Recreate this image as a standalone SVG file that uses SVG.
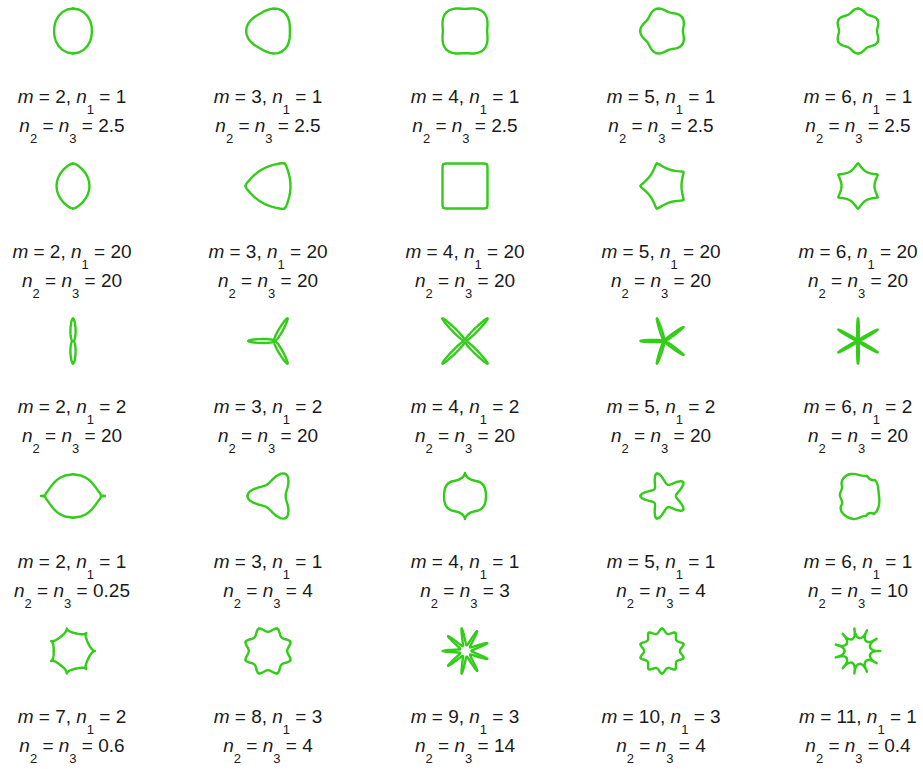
<svg xmlns="http://www.w3.org/2000/svg" xmlns:xlink="http://www.w3.org/1999/xlink" width="923" height="769" viewBox="0 0 923 769">
<style>
.s{fill:none;stroke:#33cc1a;stroke-linejoin:round;stroke-linecap:round}
.t{font-family:"Liberation Sans",Arial,sans-serif;font-size:19px;fill:#1a1a1a;text-anchor:middle}
.i{font-style:italic}
.b{font-size:13px}
</style>
<defs>
<path id="h11" d="M0,-1.1892 L.3046,-1.1367 L.5716,-.9901 L.7762,-.7762 L.9106,-.5257 L.9807,-.2628 L1,0 L.9807,.2628 L.9106,.5257 L.7762,.7762 L.5716,.9901 L.3046,1.1367 L0,1.1892"/>
<path id="h12" d="M.5946,-1.0299 L.7565,-.9015 L.8758,-.7348 L.9506,-.5488 L.9881,-.3596 L.9999,-.1763 L1,0 L.9999,.1763 L.9881,.3596 L.9506,.5488 L.8758,.7348 L.7565,.9015 L.5946,1.0299"/>
<path id="h13" d="M.8409,-.8409 L.9336,-.7164 L.9901,-.5716 L1.0141,-.4201 L1.0157,-.2721 L1.0066,-.1325 L1,0 L1.0066,.1325 L1.0157,.2721 L1.0141,.4201 L.9901,.5716 L.9336,.7164 L.8409,.8409"/>
<path id="h14" d="M.9621,-.6990 L1.0192,-.5884 L1.0444,-.4650 L1.0439,-.3392 L1.0285,-.2186 L1.0098,-.1061 L1,0 L1.0098,.1061 L1.0285,.2186 L1.0439,.3392 L1.0444,.4650 L1.0192,.5884 L.9621,.6990"/>
<path id="h15" d="M1.0299,-.5946 L1.0666,-.4974 L1.0743,-.3910 L1.0603,-.2841 L1.0355,-.1826 L1.0115,-.0885 L1,0 L1.0115,.0885 L1.0355,.1826 L1.0603,.2841 L1.0743,.3910 L1.0666,.4974 L1.0299,.5946"/>
<path id="h21" d="M0,-1.3660 L.1173,-1.3403 L.2264,-1.2837 L.3262,-1.2173 L.5774,-1 L.7654,-.7654 L.8966,-.5176 L.9743,-.2611 L1,0 L.9743,.2611 L.8966,.5176 L.7654,.7654 L.5774,1 L.3262,1.2173 L.2264,1.2837 L.1173,1.3403 L0,1.3660"/>
<path id="h22" d="M.6830,-1.1830 L.7394,-1.1241 L.7784,-1.0456 L.8100,-.9654 L.8846,-.7422 L.9374,-.5412 L.9729,-.3541 L.9933,-.1752 L1,0 L.9933,.1752 L.9729,.3541 L.9374,.5412 L.8846,.7422 L.8100,.9654 L.7784,1.0456 L.7394,1.1241 L.6830,1.1830"/>
<path id="h23" d="M.9659,-.9659 L.9920,-.9090 L.9985,-.8379 L.9998,-.7671 L1,-.5774 L1,0 L1,.5774 L.9998,.7671 L.9985,.8379 L.9920,.9090 L.9659,.9659"/>
<path id="h24" d="M1.1052,-.8029 L1.1154,-.7524 L1.1054,-.6907 L1.0914,-.6301 L1.0549,-.4697 L1.0294,-.3345 L1.0127,-.2153 L1.0031,-.1054 L1,0 L1.0031,.1054 L1.0127,.2153 L1.0294,.3345 L1.0549,.4697 L1.0914,.6301 L1.1054,.6907 L1.1154,.7524 L1.1052,.8029"/>
<path id="h25" d="M1.1830,-.6830 L1.1843,-.6385 L1.1648,-.5850 L1.1421,-.5326 L1.0851,-.3949 L1.0455,-.2801 L1.0196,-.1798 L1.0048,-.0879 L1,0 L1.0048,.0879 L1.0196,.1798 L1.0455,.2801 L1.0851,.3949 L1.1421,.5326 L1.1648,.5850 L1.1843,.6385 L1.1830,.6830"/>
<path id="h31" d="M0,-22.627 L.7688,-22.017 L1.6944,-19.366 L2.4587,-13.944 L2.6141,-9.7559 L2.5135,-6.9058 L2.3206,-4.9765 L2.1071,-3.6496 L1.9025,-2.7170 L1.7190,-2.0486 L1.5607,-1.5607 L1.2249,-.7072 L1.0527,-.2821 L1,0 L1.0527,.2821 L1.2249,.7072 L1.5607,1.5607 L1.7190,2.0486 L1.9025,2.7170 L2.1071,3.6496 L2.3206,4.9765 L2.5135,6.9058 L2.6141,9.7559 L2.4587,13.944 L1.6944,19.366 L.7688,22.017 L0,22.627"/>
<path id="h32" d="M11.314,-19.596 L11.456,-18.817 L10.682,-16.242 L8.4552,-11.357 L6.4922,-7.7370 L5.0432,-5.3454 L3.9940,-3.7682 L3.2283,-2.7088 L2.6606,-1.9807 L2.2345,-1.4694 L1.9114,-1.1036 L1.6634,-.8354 L1.3290,-.4837 L1.0732,-.1892 L1,0 L1.0732,.1892 L1.3290,.4837 L1.6634,.8354 L1.9114,1.1036 L2.2345,1.4694 L2.6606,1.9807 L3.2283,2.7088 L3.9940,3.7682 L5.0432,5.3454 L6.4922,7.7370 L8.4552,11.357 L10.682,16.242 L11.456,18.817 L11.314,19.596"/>
<path id="h33" d="M16,-16 L15.847,-15.303 L14.333,-13.134 L10.846,-9.1013 L8.0128,-6.1485 L6.0199,-4.2152 L4.6311,-2.9503 L3.6496,-2.1071 L2.9421,-1.5316 L2.4237,-1.1302 L2.0391,-.8446 L1.7491,-.6366 L1.3661,-.3661 L1.0805,-.1422 L1,0 L1.0805,.1422 L1.3661,.3661 L1.7491,.6366 L2.0391,.8446 L2.4237,1.1302 L2.9421,1.5316 L3.6496,2.1071 L4.6311,2.9503 L6.0199,4.2152 L8.0128,6.1485 L10.846,9.1013 L14.333,13.134 L15.847,15.303 L16,16"/>
<path id="h34" d="M18.306,-13.3 L18.002,-12.699 L16.117,-10.871 L12.008,-7.5032 L8.7469,-5.05 L6.4888,-3.4501 L4.9353,-2.4071 L3.8499,-1.7141 L3.0754,-1.2425 L2.5130,-.9147 L2.0991,-.6820 L1.7893,-.5131 L1.3834,-.2941 L1.0838,-.1139 L1,0 L1.0838,.1139 L1.3834,.2941 L1.7893,.5131 L2.0991,.6820 L2.5130,.9147 L3.0754,1.2425 L3.8499,1.7141 L4.9353,2.4071 L6.4888,3.4501 L8.7469,5.05 L12.008,7.5032 L16.117,10.871 L18.002,12.699 L18.306,13.3"/>
<path id="h35" d="M19.596,-11.314 L19.206,-10.791 L17.112,-9.2250 L12.653,-6.3545 L9.1537,-4.2685 L6.7480,-2.9108 L5.1031,-2.0273 L3.9601,-1.4413 L3.1485,-1.0431 L2.5619,-.7670 L2.1319,-.5712 L1.8112,-.4292 L1.3928,-.2456 L1.0857,-.0950 L1,0 L1.0857,.0950 L1.3928,.2456 L1.8112,.4292 L2.1319,.5712 L2.5619,.7670 L3.1485,1.0431 L3.9601,1.4413 L5.1031,2.0273 L6.7480,2.9108 L9.1537,4.2685 L12.653,6.3545 L17.112,9.2250 L19.206,10.791 L19.596,11.314"/>
<path id="h41" d="M0,-.545 L.1989,-.5128 L.3004,-.4679 L.3960,-.4072 L.4786,-.3277 L.5546,-.2342 L.6282,-.1274 L.6756,-.0678 L.70,-.014 L.80,0 L.70,.014 L.6756,.0678 L.6282,.1274 L.5546,.2342 L.4786,.3277 L.3960,.4072 L.3004,.4679 L.1989,.5128 L0,.545"/>
<path id="h42" d="M1,-1.7321 L1.0743,-1.6755 L1.1279,-1.6109 L1.2048,-1.4359 L1.2257,-1.0285 L1.1547,-.6667 L1.0740,-.3909 L1.0190,-.1797 L1,0 L1.0190,.1797 L1.0740,.3909 L1.1547,.6667 L1.2257,1.0285 L1.2048,1.4359 L1.1279,1.6109 L1.0743,1.6755 L1,1.7321"/>
<path id="h44" d="M1.6180,-1.1756 L1.6422,-1.1244 L1.6492,-1.0710 L1.6233,-.9372 L1.4617,-.6508 L1.2681,-.4120 L1.1179,-.2376 L1.0290,-.1082 L1,0 L1.0290,.1082 L1.1179,.2376 L1.2681,.4120 L1.4617,.6508 L1.6233,.9372 L1.6492,1.0710 L1.6422,1.1244 L1.6180,1.1756"/>
<path id="h51" d="M.7069,-.3404 L.7330,-.2877 L.7609,-.2347 L.7919,-.1808 L.8287,-.1249 L.8594,-.0860 L.9009,-.0450 L.9392,-.0187 L1,0 L.9392,.0187 L.9009,.0450 L.8594,.0860 L.8287,.1249 L.7919,.1808 L.7609,.2347 L.7330,.2877 L.7069,.3404"/>
<path id="h52" d="M1.1640,-.4822 L1.1713,-.4555 L1.1723,-.4267 L1.1675,-.3963 L1.1298,-.3027 L1.0795,-.2147 L1.0366,-.1365 L1.0093,-.0662 L1,0 L1.0093,.0662 L1.0366,.1365 L1.0795,.2147 L1.1298,.3027 L1.1675,.3963 L1.1723,.4267 L1.1713,.4555 L1.1640,.4822"/>
<path id="h53" d="M3.7588,-1.3681 L3.6000,-1.2316 L3.2137,-1.0305 L2.7995,-.8381 L2.4386,-.6788 L1.9036,-.4511 L1.4250,-.2513 L1.1677,-.1365 L1.0392,-.0605 L1,0 L1.0392,.0605 L1.1677,.1365 L1.4250,.2513 L1.9036,.4511 L2.4386,.6788 L2.7995,.8381 L3.2137,1.0305 L3.6000,1.2316 L3.7588,1.3681"/>
<path id="h54" d="M1.1983,-.3893 L1.2018,-.3628 L1.1992,-.3439 L1.1910,-.3191 L1.1441,-.2432 L1.0871,-.1722 L1.0398,-.1093 L1.0100,-.0529 L1,0 L1.0100,.0529 L1.0398,.1093 L1.0871,.1722 L1.1441,.2432 L1.1910,.3191 L1.1992,.3439 L1.2018,.3628 L1.1983,.3893"/>
<path id="h55" d="M.5511,-.1618 L.5613,-.1362 L.5770,-.1112 L.6000,-.0863 L.6346,-.0606 L.6696,-.0426 L.7122,-.0271 L.7651,-.0146 L.8347,-.0053 L1,0 L.8347,.0053 L.7651,.0146 L.7122,.0271 L.6696,.0426 L.6346,.0606 L.6000,.0863 L.5770,.1112 L.5613,.1362 L.5511,.1618"/>
</defs>

<!-- Row 1 -->
<g id="r1c1">
<g class="s" transform="translate(73,31) scale(18.92)" stroke-width="0.127"><use href="#h11"/><use href="#h11" transform="rotate(180)"/></g>
<text class="t" x="72" y="103"><tspan class="i">m</tspan> = 2, <tspan class="i">n</tspan><tspan class="b" dy="11">1</tspan><tspan dy="-11"> = 1</tspan></text>
<text class="t" x="72" y="131.5"><tspan class="i">n</tspan><tspan class="b" dy="11">2</tspan><tspan dy="-11"> = </tspan><tspan class="i">n</tspan><tspan class="b" dy="11">3</tspan><tspan dy="-11"> = 2.5</tspan></text>
</g>
<g id="r1c2">
<g class="s" transform="translate(268,31) scale(19.98) translate(.0946,0)" stroke-width="0.12"><use href="#h12"/><use href="#h12" transform="rotate(120)"/><use href="#h12" transform="rotate(240)"/></g>
<text class="t" x="268" y="103"><tspan class="i">m</tspan> = 3, <tspan class="i">n</tspan><tspan class="b" dy="11">1</tspan><tspan dy="-11"> = 1</tspan></text>
<text class="t" x="268" y="131.5"><tspan class="i">n</tspan><tspan class="b" dy="11">2</tspan><tspan dy="-11"> = </tspan><tspan class="i">n</tspan><tspan class="b" dy="11">3</tspan><tspan dy="-11"> = 2.5</tspan></text>
</g>
<g id="r1c3">
<g class="s" transform="translate(465,31) scale(22.15)" stroke-width="0.108"><use href="#h13"/><use href="#h13" transform="rotate(90)"/><use href="#h13" transform="rotate(180)"/><use href="#h13" transform="rotate(270)"/></g>
<text class="t" x="465" y="103"><tspan class="i">m</tspan> = 4, <tspan class="i">n</tspan><tspan class="b" dy="11">1</tspan><tspan dy="-11"> = 1</tspan></text>
<text class="t" x="465" y="131.5"><tspan class="i">n</tspan><tspan class="b" dy="11">2</tspan><tspan dy="-11"> = </tspan><tspan class="i">n</tspan><tspan class="b" dy="11">3</tspan><tspan dy="-11"> = 2.5</tspan></text>
</g>
<g id="r1c4">
<g class="s" transform="translate(662,31) scale(19.53) translate(.0725,0)" stroke-width="0.123"><use href="#h14"/><use href="#h14" transform="rotate(72)"/><use href="#h14" transform="rotate(144)"/><use href="#h14" transform="rotate(216)"/><use href="#h14" transform="rotate(288)"/></g>
<text class="t" x="661" y="103"><tspan class="i">m</tspan> = 5, <tspan class="i">n</tspan><tspan class="b" dy="11">1</tspan><tspan dy="-11"> = 1</tspan></text>
<text class="t" x="661" y="131.5"><tspan class="i">n</tspan><tspan class="b" dy="11">2</tspan><tspan dy="-11"> = </tspan><tspan class="i">n</tspan><tspan class="b" dy="11">3</tspan><tspan dy="-11"> = 2.5</tspan></text>
</g>
<g id="r1c5">
<g class="s" transform="translate(858,31) scale(18.92)" stroke-width="0.127"><use href="#h15"/><use href="#h15" transform="rotate(60)"/><use href="#h15" transform="rotate(120)"/><use href="#h15" transform="rotate(180)"/><use href="#h15" transform="rotate(240)"/><use href="#h15" transform="rotate(300)"/></g>
<text class="t" x="858" y="103"><tspan class="i">m</tspan> = 6, <tspan class="i">n</tspan><tspan class="b" dy="11">1</tspan><tspan dy="-11"> = 1</tspan></text>
<text class="t" x="858" y="131.5"><tspan class="i">n</tspan><tspan class="b" dy="11">2</tspan><tspan dy="-11"> = </tspan><tspan class="i">n</tspan><tspan class="b" dy="11">3</tspan><tspan dy="-11"> = 2.5</tspan></text>
</g>

<!-- Row 2 -->
<g id="r2c1">
<g class="s" transform="translate(73,186) scale(16.47)" stroke-width="0.146"><use href="#h21"/><use href="#h21" transform="rotate(180)"/></g>
<text class="t" x="72" y="258"><tspan class="i">m</tspan> = 2, <tspan class="i">n</tspan><tspan class="b" dy="11">1</tspan><tspan dy="-11"> = 20</tspan></text>
<text class="t" x="72" y="286.5"><tspan class="i">n</tspan><tspan class="b" dy="11">2</tspan><tspan dy="-11"> = </tspan><tspan class="i">n</tspan><tspan class="b" dy="11">3</tspan><tspan dy="-11"> = 20</tspan></text>
</g>
<g id="r2c2">
<g class="s" transform="translate(268,186) scale(19.02) translate(.183,0)" stroke-width="0.126"><use href="#h22"/><use href="#h22" transform="rotate(120)"/><use href="#h22" transform="rotate(240)"/></g>
<text class="t" x="268" y="258"><tspan class="i">m</tspan> = 3, <tspan class="i">n</tspan><tspan class="b" dy="11">1</tspan><tspan dy="-11"> = 20</tspan></text>
<text class="t" x="268" y="286.5"><tspan class="i">n</tspan><tspan class="b" dy="11">2</tspan><tspan dy="-11"> = </tspan><tspan class="i">n</tspan><tspan class="b" dy="11">3</tspan><tspan dy="-11"> = 20</tspan></text>
</g>
<g id="r2c3">
<g class="s" transform="translate(465,186) scale(22.5)" stroke-width="0.107"><use href="#h23"/><use href="#h23" transform="rotate(90)"/><use href="#h23" transform="rotate(180)"/><use href="#h23" transform="rotate(270)"/></g>
<text class="t" x="465" y="258"><tspan class="i">m</tspan> = 4, <tspan class="i">n</tspan><tspan class="b" dy="11">1</tspan><tspan dy="-11"> = 20</tspan></text>
<text class="t" x="465" y="286.5"><tspan class="i">n</tspan><tspan class="b" dy="11">2</tspan><tspan dy="-11"> = </tspan><tspan class="i">n</tspan><tspan class="b" dy="11">3</tspan><tspan dy="-11"> = 20</tspan></text>
</g>
<g id="r2c4">
<g class="s" transform="translate(662,186) scale(17.32) translate(.125,0)" stroke-width="0.139"><use href="#h24"/><use href="#h24" transform="rotate(72)"/><use href="#h24" transform="rotate(144)"/><use href="#h24" transform="rotate(216)"/><use href="#h24" transform="rotate(288)"/></g>
<text class="t" x="661" y="258"><tspan class="i">m</tspan> = 5, <tspan class="i">n</tspan><tspan class="b" dy="11">1</tspan><tspan dy="-11"> = 20</tspan></text>
<text class="t" x="661" y="286.5"><tspan class="i">n</tspan><tspan class="b" dy="11">2</tspan><tspan dy="-11"> = </tspan><tspan class="i">n</tspan><tspan class="b" dy="11">3</tspan><tspan dy="-11"> = 20</tspan></text>
</g>
<g id="r2c5">
<g class="s" transform="translate(858,186) scale(16.47)" stroke-width="0.146"><use href="#h25"/><use href="#h25" transform="rotate(60)"/><use href="#h25" transform="rotate(120)"/><use href="#h25" transform="rotate(180)"/><use href="#h25" transform="rotate(240)"/><use href="#h25" transform="rotate(300)"/></g>
<text class="t" x="858" y="258"><tspan class="i">m</tspan> = 6, <tspan class="i">n</tspan><tspan class="b" dy="11">1</tspan><tspan dy="-11"> = 20</tspan></text>
<text class="t" x="858" y="286.5"><tspan class="i">n</tspan><tspan class="b" dy="11">2</tspan><tspan dy="-11"> = </tspan><tspan class="i">n</tspan><tspan class="b" dy="11">3</tspan><tspan dy="-11"> = 20</tspan></text>
</g>

<!-- Row 3 -->
<g id="r3c1">
<g class="s" transform="translate(73,341) scale(.9945)" stroke-width="2.4"><use href="#h31"/><use href="#h31" transform="rotate(180)"/></g>
<text class="t" x="72" y="413"><tspan class="i">m</tspan> = 2, <tspan class="i">n</tspan><tspan class="b" dy="11">1</tspan><tspan dy="-11"> = 2</tspan></text>
<text class="t" x="72" y="441.5"><tspan class="i">n</tspan><tspan class="b" dy="11">2</tspan><tspan dy="-11"> = </tspan><tspan class="i">n</tspan><tspan class="b" dy="11">3</tspan><tspan dy="-11"> = 20</tspan></text>
</g>
<g id="r3c2">
<g class="s" transform="translate(268,341) scale(1.148) translate(5.585,0)" stroke-width="2.1"><use href="#h32"/><use href="#h32" transform="rotate(120)"/><use href="#h32" transform="rotate(240)"/></g>
<text class="t" x="268" y="413"><tspan class="i">m</tspan> = 3, <tspan class="i">n</tspan><tspan class="b" dy="11">1</tspan><tspan dy="-11"> = 2</tspan></text>
<text class="t" x="268" y="441.5"><tspan class="i">n</tspan><tspan class="b" dy="11">2</tspan><tspan dy="-11"> = </tspan><tspan class="i">n</tspan><tspan class="b" dy="11">3</tspan><tspan dy="-11"> = 20</tspan></text>
</g>
<g id="r3c3">
<g class="s" transform="translate(465,341) scale(1.406)" stroke-width="1.7"><use href="#h33"/><use href="#h33" transform="rotate(90)"/><use href="#h33" transform="rotate(180)"/><use href="#h33" transform="rotate(270)"/></g>
<text class="t" x="465" y="413"><tspan class="i">m</tspan> = 4, <tspan class="i">n</tspan><tspan class="b" dy="11">1</tspan><tspan dy="-11"> = 2</tspan></text>
<text class="t" x="465" y="441.5"><tspan class="i">n</tspan><tspan class="b" dy="11">2</tspan><tspan dy="-11"> = </tspan><tspan class="i">n</tspan><tspan class="b" dy="11">3</tspan><tspan dy="-11"> = 20</tspan></text>
</g>
<g id="r3c4">
<g class="s" transform="translate(662,341) scale(1.0455) translate(2.161,0)" stroke-width="2.3"><use href="#h34"/><use href="#h34" transform="rotate(72)"/><use href="#h34" transform="rotate(144)"/><use href="#h34" transform="rotate(216)"/><use href="#h34" transform="rotate(288)"/></g>
<text class="t" x="661" y="413"><tspan class="i">m</tspan> = 5, <tspan class="i">n</tspan><tspan class="b" dy="11">1</tspan><tspan dy="-11"> = 2</tspan></text>
<text class="t" x="661" y="441.5"><tspan class="i">n</tspan><tspan class="b" dy="11">2</tspan><tspan dy="-11"> = </tspan><tspan class="i">n</tspan><tspan class="b" dy="11">3</tspan><tspan dy="-11"> = 20</tspan></text>
</g>
<g id="r3c5">
<g class="s" transform="translate(858,341) scale(.9945)" stroke-width="2.4"><use href="#h35"/><use href="#h35" transform="rotate(60)"/><use href="#h35" transform="rotate(120)"/><use href="#h35" transform="rotate(180)"/><use href="#h35" transform="rotate(240)"/><use href="#h35" transform="rotate(300)"/></g>
<text class="t" x="858" y="413"><tspan class="i">m</tspan> = 6, <tspan class="i">n</tspan><tspan class="b" dy="11">1</tspan><tspan dy="-11"> = 2</tspan></text>
<text class="t" x="858" y="441.5"><tspan class="i">n</tspan><tspan class="b" dy="11">2</tspan><tspan dy="-11"> = </tspan><tspan class="i">n</tspan><tspan class="b" dy="11">3</tspan><tspan dy="-11"> = 20</tspan></text>
</g>

<!-- Row 4 -->
<g id="r4c1">
<g class="s" transform="translate(73,496) scale(40)" stroke-width="0.06"><use href="#h41"/><use href="#h41" transform="rotate(180)"/></g>
<text class="t" x="72" y="568"><tspan class="i">m</tspan> = 2, <tspan class="i">n</tspan><tspan class="b" dy="11">1</tspan><tspan dy="-11"> = 1</tspan></text>
<text class="t" x="72" y="596.5"><tspan class="i">n</tspan><tspan class="b" dy="11">2</tspan><tspan dy="-11"> = </tspan><tspan class="i">n</tspan><tspan class="b" dy="11">3</tspan><tspan dy="-11"> = 0.25</tspan></text>
</g>
<g id="r4c2">
<g class="s" transform="translate(268,496) scale(12.7) translate(.385,0)" stroke-width="0.189"><use href="#h42"/><use href="#h42" transform="rotate(120)"/><use href="#h42" transform="rotate(240)"/></g>
<text class="t" x="268" y="568"><tspan class="i">m</tspan> = 3, <tspan class="i">n</tspan><tspan class="b" dy="11">1</tspan><tspan dy="-11"> = 1</tspan></text>
<text class="t" x="268" y="596.5"><tspan class="i">n</tspan><tspan class="b" dy="11">2</tspan><tspan dy="-11"> = </tspan><tspan class="i">n</tspan><tspan class="b" dy="11">3</tspan><tspan dy="-11"> = 4</tspan></text>
</g>
<g id="r4c3">
<path class="s" stroke-width="2.4" d="M465,473 C466,478 470,480 476,481 C484,482 486,488 486,496 C486,504 484,510 476,511 C470,512 466,514 465,519 C464,514 460,512 454,511 C446,510 444,504 444,496 C444,488 446,482 454,481 C460,480 464,478 465,473 Z"/>
<text class="t" x="465" y="568"><tspan class="i">m</tspan> = 4, <tspan class="i">n</tspan><tspan class="b" dy="11">1</tspan><tspan dy="-11"> = 1</tspan></text>
<text class="t" x="465" y="596.5"><tspan class="i">n</tspan><tspan class="b" dy="11">2</tspan><tspan dy="-11"> = </tspan><tspan class="i">n</tspan><tspan class="b" dy="11">3</tspan><tspan dy="-11"> = 3</tspan></text>
</g>
<g id="r4c4">
<g class="s" transform="translate(662,496) scale(11.78) translate(.175,0)" stroke-width="0.204"><use href="#h44"/><use href="#h44" transform="rotate(72)"/><use href="#h44" transform="rotate(144)"/><use href="#h44" transform="rotate(216)"/><use href="#h44" transform="rotate(288)"/></g>
<text class="t" x="661" y="568"><tspan class="i">m</tspan> = 5, <tspan class="i">n</tspan><tspan class="b" dy="11">1</tspan><tspan dy="-11"> = 1</tspan></text>
<text class="t" x="661" y="596.5"><tspan class="i">n</tspan><tspan class="b" dy="11">2</tspan><tspan dy="-11"> = </tspan><tspan class="i">n</tspan><tspan class="b" dy="11">3</tspan><tspan dy="-11"> = 4</tspan></text>
</g>
<g id="r4c5">
<path class="s" stroke-width="2.4" d="M851,474 C845,475 840,480 842,486 C843,490 839,492 840,496 C841,500 844,502 841,506 C839,512 846,518 853,519 C858,520 862,515 866,516 C868,513 870,512 874,514 C879,510 880,503 879,496 C878,489 879,484 875,480 C871,481 869,479 867,476 C862,477 857,473 851,474 Z"/>
<text class="t" x="858" y="568"><tspan class="i">m</tspan> = 6, <tspan class="i">n</tspan><tspan class="b" dy="11">1</tspan><tspan dy="-11"> = 1</tspan></text>
<text class="t" x="858" y="596.5"><tspan class="i">n</tspan><tspan class="b" dy="11">2</tspan><tspan dy="-11"> = </tspan><tspan class="i">n</tspan><tspan class="b" dy="11">3</tspan><tspan dy="-11"> = 10</tspan></text>
</g>

<!-- Row 5 -->
<g id="r5c1">
<g class="s" transform="translate(73,651) scale(23.08) translate(-.0495,0)" stroke-width="0.104"><use href="#h51"/><use href="#h51" transform="rotate(51.4286)"/><use href="#h51" transform="rotate(102.857)"/><use href="#h51" transform="rotate(154.286)"/><use href="#h51" transform="rotate(205.714)"/><use href="#h51" transform="rotate(257.143)"/><use href="#h51" transform="rotate(308.571)"/></g>
<text class="t" x="72" y="723"><tspan class="i">m</tspan> = 7, <tspan class="i">n</tspan><tspan class="b" dy="11">1</tspan><tspan dy="-11"> = 2</tspan></text>
<text class="t" x="72" y="751.5"><tspan class="i">n</tspan><tspan class="b" dy="11">2</tspan><tspan dy="-11"> = </tspan><tspan class="i">n</tspan><tspan class="b" dy="11">3</tspan><tspan dy="-11"> = 0.6</tspan></text>
</g>
<g id="r5c2">
<g class="s" transform="translate(268,651) scale(19.19)" stroke-width="0.125"><use href="#h52"/><use href="#h52" transform="rotate(45)"/><use href="#h52" transform="rotate(90)"/><use href="#h52" transform="rotate(135)"/><use href="#h52" transform="rotate(180)"/><use href="#h52" transform="rotate(225)"/><use href="#h52" transform="rotate(270)"/><use href="#h52" transform="rotate(315)"/></g>
<text class="t" x="268" y="723"><tspan class="i">m</tspan> = 8, <tspan class="i">n</tspan><tspan class="b" dy="11">1</tspan><tspan dy="-11"> = 3</tspan></text>
<text class="t" x="268" y="751.5"><tspan class="i">n</tspan><tspan class="b" dy="11">2</tspan><tspan dy="-11"> = </tspan><tspan class="i">n</tspan><tspan class="b" dy="11">3</tspan><tspan dy="-11"> = 4</tspan></text>
</g>
<g id="r5c3">
<g class="s" transform="translate(465,651) scale(5.712) translate(.1206,0)" stroke-width="0.42"><use href="#h53"/><use href="#h53" transform="rotate(40)"/><use href="#h53" transform="rotate(80)"/><use href="#h53" transform="rotate(120)"/><use href="#h53" transform="rotate(160)"/><use href="#h53" transform="rotate(200)"/><use href="#h53" transform="rotate(240)"/><use href="#h53" transform="rotate(280)"/><use href="#h53" transform="rotate(320)"/></g>
<text class="t" x="465" y="723"><tspan class="i">m</tspan> = 9, <tspan class="i">n</tspan><tspan class="b" dy="11">1</tspan><tspan dy="-11"> = 3</tspan></text>
<text class="t" x="465" y="751.5"><tspan class="i">n</tspan><tspan class="b" dy="11">2</tspan><tspan dy="-11"> = </tspan><tspan class="i">n</tspan><tspan class="b" dy="11">3</tspan><tspan dy="-11"> = 14</tspan></text>
</g>
<g id="r5c4">
<g class="s" transform="translate(662,651) scale(17.86)" stroke-width="0.134"><use href="#h54"/><use href="#h54" transform="rotate(36)"/><use href="#h54" transform="rotate(72)"/><use href="#h54" transform="rotate(108)"/><use href="#h54" transform="rotate(144)"/><use href="#h54" transform="rotate(180)"/><use href="#h54" transform="rotate(216)"/><use href="#h54" transform="rotate(252)"/><use href="#h54" transform="rotate(288)"/><use href="#h54" transform="rotate(324)"/></g>
<text class="t" x="661" y="723"><tspan class="i">m</tspan> = 10, <tspan class="i">n</tspan><tspan class="b" dy="11">1</tspan><tspan dy="-11"> = 3</tspan></text>
<text class="t" x="661" y="751.5"><tspan class="i">n</tspan><tspan class="b" dy="11">2</tspan><tspan dy="-11"> = </tspan><tspan class="i">n</tspan><tspan class="b" dy="11">3</tspan><tspan dy="-11"> = 4</tspan></text>
</g>
<g id="r5c5">
<g class="s" transform="translate(858,651) scale(22.73) translate(-.0203,0)" stroke-width="0.106"><use href="#h55"/><use href="#h55" transform="rotate(32.7273)"/><use href="#h55" transform="rotate(65.4545)"/><use href="#h55" transform="rotate(98.1818)"/><use href="#h55" transform="rotate(130.909)"/><use href="#h55" transform="rotate(163.636)"/><use href="#h55" transform="rotate(196.364)"/><use href="#h55" transform="rotate(229.091)"/><use href="#h55" transform="rotate(261.818)"/><use href="#h55" transform="rotate(294.545)"/><use href="#h55" transform="rotate(327.273)"/></g>
<text class="t" x="858" y="723"><tspan class="i">m</tspan> = 11, <tspan class="i">n</tspan><tspan class="b" dy="11">1</tspan><tspan dy="-11"> = 1</tspan></text>
<text class="t" x="858" y="751.5"><tspan class="i">n</tspan><tspan class="b" dy="11">2</tspan><tspan dy="-11"> = </tspan><tspan class="i">n</tspan><tspan class="b" dy="11">3</tspan><tspan dy="-11"> = 0.4</tspan></text>
</g>
</svg>
